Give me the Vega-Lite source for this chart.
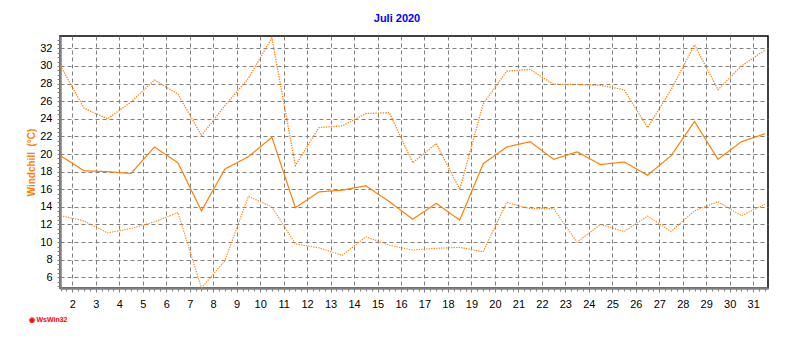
{
  "$schema": "https://vega.github.io/schema/vega-lite/v6.json",
  "width": 708,
  "height": 252,
  "autosize": "none",
  "padding": {"left": 60, "top": 36, "right": 24, "bottom": 49},
  "background": "white",
  "title": {"text": "Juli 2020", "color": "#0000FF", "font": "Liberation Sans", "fontSize": 11, "fontWeight": "bold", "anchor": "middle", "frame": "group", "dx": -17, "offset": 10},
  "config": {
    "view": {"stroke": "black", "strokeWidth": 1.5},
    "axis": {"labelFont": "Liberation Sans", "labelFontSize": 11, "labelColor": "black", "domainColor": "#808080", "domainWidth": 2.5, "tickColor": "#808080", "tickWidth": 1, "gridColor": "#808080", "gridDash": [4, 3], "gridWidth": 1}
  },
  "data": {"values": [
    {"t": 1.5, "max": 30.0, "mean": 19.8, "min": 13.0},
    {"t": 2.5, "max": 25.2, "mean": 18.1, "min": 12.4},
    {"t": 3.5, "max": 24.0, "mean": 18.0, "min": 11.05},
    {"t": 4.5, "max": 25.9, "mean": 17.8, "min": 11.55},
    {"t": 5.5, "max": 28.4, "mean": 20.8, "min": 12.3},
    {"t": 6.5, "max": 26.8, "mean": 19.0, "min": 13.35},
    {"t": 7.5, "max": 22.1, "mean": 13.55, "min": 4.8},
    {"t": 8.5, "max": 25.5, "mean": 18.3, "min": 7.9},
    {"t": 9.5, "max": 28.6, "mean": 19.7, "min": 15.2},
    {"t": 10.5, "max": 33.2, "mean": 21.9, "min": 14.0},
    {"t": 11.5, "max": 18.7, "mean": 13.9, "min": 9.8},
    {"t": 12.5, "max": 23.0, "mean": 15.7, "min": 9.35},
    {"t": 13.5, "max": 23.2, "mean": 15.9, "min": 8.5},
    {"t": 14.5, "max": 24.6, "mean": 16.4, "min": 10.6},
    {"t": 15.5, "max": 24.7, "mean": 14.6, "min": 9.65},
    {"t": 16.5, "max": 19.0, "mean": 12.6, "min": 9.1},
    {"t": 17.5, "max": 21.2, "mean": 14.4, "min": 9.3},
    {"t": 18.5, "max": 16.0, "mean": 12.5, "min": 9.4},
    {"t": 19.5, "max": 25.7, "mean": 18.9, "min": 8.9},
    {"t": 20.5, "max": 29.4, "mean": 20.8, "min": 14.5},
    {"t": 21.5, "max": 29.6, "mean": 21.4, "min": 13.8},
    {"t": 22.5, "max": 27.9, "mean": 19.4, "min": 13.8},
    {"t": 23.5, "max": 27.9, "mean": 20.25, "min": 10.0},
    {"t": 24.5, "max": 27.8, "mean": 18.8, "min": 12.0},
    {"t": 25.5, "max": 27.3, "mean": 19.1, "min": 11.2},
    {"t": 26.5, "max": 23.0, "mean": 17.6, "min": 12.95},
    {"t": 27.5, "max": 27.3, "mean": 19.8, "min": 11.2},
    {"t": 28.5, "max": 32.4, "mean": 23.7, "min": 13.55},
    {"t": 29.5, "max": 27.3, "mean": 19.4, "min": 14.6},
    {"t": 30.5, "max": 30.0, "mean": 21.4, "min": 13.0},
    {"t": 31.5, "max": 31.8, "mean": 22.3, "min": 14.3}
  ]},
  "transform": [{"fold": ["max", "mean", "min"], "as": ["series", "value"]}],
  "mark": {"type": "line", "color": "#FF8000"},
  "encoding": {
    "x": {
      "field": "t", "type": "quantitative",
      "scale": {"domain": [1.476, 31.63], "nice": false, "zero": false},
      "axis": {
        "values": [1.5,1.75,2,2.25,2.5,2.75,3,3.25,3.5,3.75,4,4.25,4.5,4.75,5,5.25,5.5,5.75,6,6.25,6.5,6.75,7,7.25,7.5,7.75,8,8.25,8.5,8.75,9,9.25,9.5,9.75,10,10.25,10.5,10.75,11,11.25,11.5,11.75,12,12.25,12.5,12.75,13,13.25,13.5,13.75,14,14.25,14.5,14.75,15,15.25,15.5,15.75,16,16.25,16.5,16.75,17,17.25,17.5,17.75,18,18.25,18.5,18.75,19,19.25,19.5,19.75,20,20.25,20.5,20.75,21,21.25,21.5,21.75,22,22.25,22.5,22.75,23,23.25,23.5,23.75,24,24.25,24.5,24.75,25,25.25,25.5,25.75,26,26.25,26.5,26.75,27,27.25,27.5,27.75,28,28.25,28.5,28.75,29,29.25,29.5,29.75,30,30.25,30.5,30.75,31,31.25,31.5],
        "labelExpr": "datum.value % 1 === 0 ? datum.value : ''",
        "labelFlush": false,
        "labelOverlap": false,
        "labelPadding": 6,
        "tickSize": {"condition": {"test": "datum.value % 1 === 0", "value": 4}, "value": 3},
        "gridOpacity": {"condition": {"test": "datum.value % 1 === 0", "value": 1}, "value": 0},
        "title": "◉ WsWin32",
        "titleColor": "#FF0000",
        "titleFont": "Liberation Sans",
        "titleFontSize": 7,
        "titleFontWeight": "bold",
        "titleAnchor": "start",
        "titleAlign": "left",
        "titleBaseline": "middle",
        "titleX": -32,
        "titleY": 31
      }
    },
    "y": {
      "field": "value", "type": "quantitative",
      "scale": {"domain": [4.79, 33.4], "nice": false, "zero": false},
      "axis": {
        "values": [5,5.5,6,6.5,7,7.5,8,8.5,9,9.5,10,10.5,11,11.5,12,12.5,13,13.5,14,14.5,15,15.5,16,16.5,17,17.5,18,18.5,19,19.5,20,20.5,21,21.5,22,22.5,23,23.5,24,24.5,25,25.5,26,26.5,27,27.5,28,28.5,29,29.5,30,30.5,31,31.5,32,32.5,33],
        "labelExpr": "datum.value % 2 === 0 ? datum.value : ''",
        "labelOverlap": false,
        "labelFlush": false,
        "labelPadding": 5,
        "tickSize": 3,
        "gridOpacity": {"condition": {"test": "datum.value % 2 === 0", "value": 1}, "value": 0},
        "title": "Windchill\u00a0\u00a0(°C)",
        "titleColor": "#FF8000",
        "titleFont": "Liberation Sans",
        "titleFontSize": 10,
        "titleFontWeight": "bold",
        "titlePadding": 3
      }
    },
    "detail": {"field": "series", "type": "nominal"},
    "strokeDash": {
      "field": "series", "type": "nominal",
      "scale": {"domain": ["max", "mean", "min"], "range": [[1.3, 1.2], [1, 0], [1.3, 1.2]]},
      "legend": null
    },
    "strokeWidth": {
      "field": "series", "type": "nominal",
      "scale": {"domain": ["max", "mean", "min"], "range": [1.3, 1.1, 1.3]},
      "legend": null
    }
  }
}
